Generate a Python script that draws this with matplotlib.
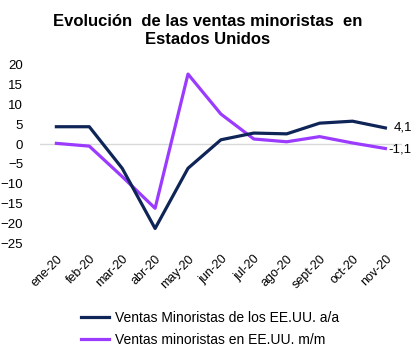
import matplotlib
matplotlib.use("Agg")
import matplotlib.pyplot as plt

plt.rcParams['font.family'] = ['Liberation Sans', 'DejaVu Sans']

meses = ['ene-20', 'feb-20', 'mar-20', 'abr-20', 'may-20', 'jun-20',
         'jul-20', 'ago-20', 'sept-20', 'oct-20', 'nov-20']
ventas_aa = [4.4, 4.4, -6.1, -21.3, -6.1, 1.1, 2.8, 2.6, 5.3, 5.8, 4.1]
ventas_mm = [0.2, -0.5, -8.2, -16.2, 17.7, 7.6, 1.3, 0.6, 1.9, 0.3, -1.1]

navy = '#0f2557'
purple = '#9b3bff'

fig = plt.figure(figsize=(4.16, 3.57), dpi=100)
ax = fig.add_axes([0.096, 0.319, 0.87, 0.499])

x = list(range(len(meses)))
ax.axhline(0, color='#d9d9d9', lw=1, zorder=1)
ax.plot(x, ventas_aa, color=navy, lw=2.3, label='Ventas Minoristas de los EE.UU. a/a', zorder=3)
ax.plot(x, ventas_mm, color=purple, lw=2.3, label='Ventas minoristas en EE.UU. m/m', zorder=2)

ax.text(x[-1] + 0.25, ventas_aa[-1] + 0.2, '4,1', fontsize=9.5, va='center', ha='left')
ax.text(x[-1] + 0.08, ventas_mm[-1] - 0.2, '-1,1', fontsize=9.5, va='center', ha='left')

ax.set_xlim(-0.5, 10.5)
ax.set_ylim(-25, 20)
ax.set_yticks(range(-25, 21, 5))
ax.set_xticks(x)
ax.set_xticklabels(meses, rotation=45, ha='right', rotation_mode='anchor', fontsize=9)
ax.tick_params(axis='y', labelsize=9.5, length=0, pad=12)
ax.tick_params(axis='x', length=0, pad=7)
for s in ax.spines.values():
    s.set_visible(False)

fig.suptitle('Evolución  de las ventas minoristas  en\nEstados Unidos', fontsize=12,
             fontweight='bold', y=0.962, x=0.5, linespacing=1.25)

fig.legend(loc='center', bbox_to_anchor=(0.505, 0.078), frameon=False,
           fontsize=10, handlelength=2.0, handletextpad=0.4, labelspacing=0.55)

fig.savefig('out.png', dpi=100)
